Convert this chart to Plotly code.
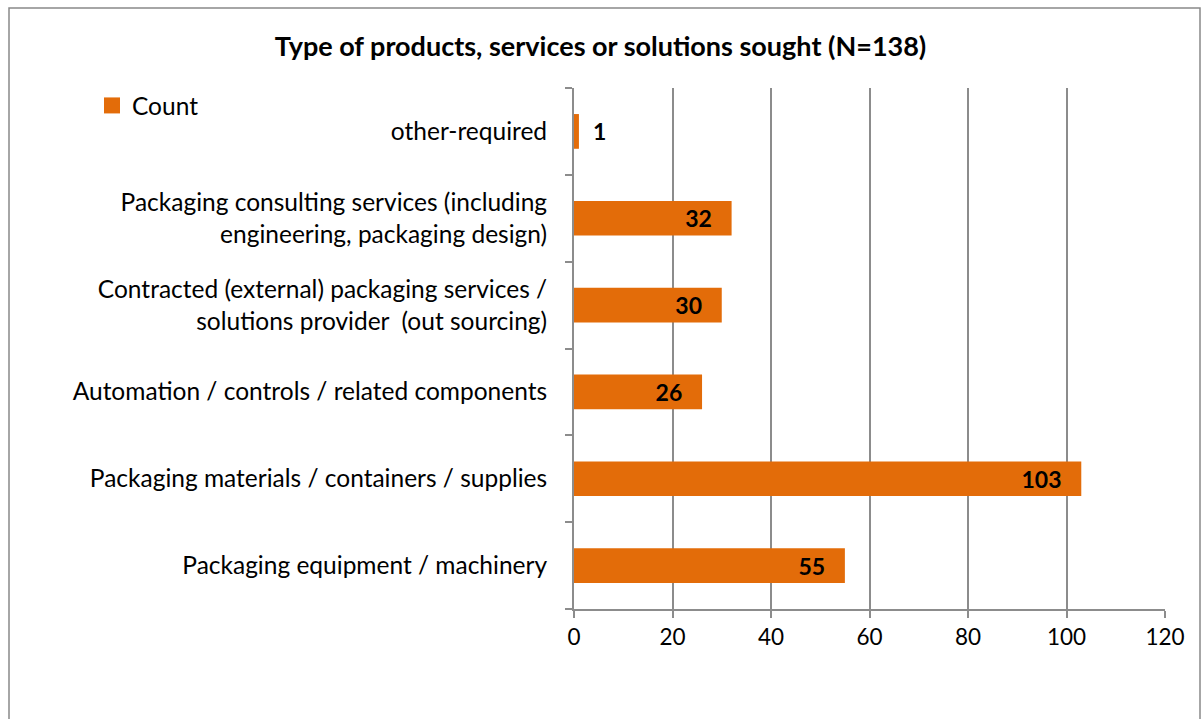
import plotly.graph_objects as go

# Survey responses: type of products, services or solutions sought
categories = [
    "Packaging equipment / machinery",
    "Packaging materials / containers / supplies",
    "Automation / controls / related components",
    "Contracted (external) packaging services /<br>solutions provider  (out sourcing)",
    "Packaging consulting services (including<br>engineering, packaging design)",
    "other-required",
]
counts = [55, 103, 26, 30, 32, 1]

x_ticks = [0, 20, 40, 60, 80, 100, 120]

ORANGE = "#E36C09"
GRID = "#8C8C8C"
FONT = "Lato, 'Open Sans', sans-serif"
NBSP = "\u00a0"

# label placement: inside the bar end, except the tiny bar
text_pos = ["outside" if v < 5 else "inside" for v in counts]
labels = [
    (NBSP * 2 + str(v)) if v < 5 else (str(v) + NBSP * 3) for v in counts
]

fig = go.Figure()
fig.add_trace(
    go.Bar(
        x=counts,
        y=categories,
        orientation="h",
        name="Count",
        legendgroup="count",
        showlegend=False,
        marker=dict(color=ORANGE, line=dict(width=0)),
        width=0.4,
        text=labels,
        textposition=text_pos,
        insidetextanchor="end",
        textfont=dict(family=FONT, size=23, color="#000000", weight="bold"),
        cliponaxis=False,
    )
)
# legend entry with a larger square swatch
fig.add_trace(
    go.Scatter(
        x=[None],
        y=[None],
        mode="markers",
        name="Count",
        legendgroup="count",
        marker=dict(symbol="square", size=16, color=ORANGE),
        hoverinfo="skip",
    )
)

W, H = 1201, 719
L, R, T, B = 574, 36, 88, 110
pw, ph = W - L - R, H - T - B


def px_x(x):
    return (x - L) / pw


def px_y(y):
    return 1 - (y - T) / ph


fig.update_layout(
    width=W,
    height=H,
    margin=dict(l=L, r=R, t=T, b=B, pad=0),
    paper_bgcolor="white",
    plot_bgcolor="white",
    font=dict(family=FONT, size=24.5, color="#000000"),
    bargap=0.6,
    showlegend=True,
    title=dict(
        text="<b>Type of products, services or solutions sought (N=138)</b>",
        x=0.5,
        xanchor="center",
        y=1 - 47 / H,
        yanchor="middle",
        font=dict(family=FONT, size=27, color="#000000"),
    ),
    legend=dict(
        x=px_x(92),
        y=px_y(83),
        xanchor="left",
        yanchor="top",
        bgcolor="rgba(0,0,0,0)",
        font=dict(family=FONT, size=24.5),
        itemsizing="trace",
        itemwidth=30,
    ),
    xaxis=dict(
        range=[0, 120],
        tickvals=x_ticks,
        showgrid=True,
        gridcolor=GRID,
        gridwidth=2,
        showline=True,
        linecolor=GRID,
        linewidth=2,
        ticks="outside",
        ticklen=7,
        tickwidth=2,
        tickcolor=GRID,
        tickfont=dict(family=FONT, size=22.5),
        zeroline=False,
        fixedrange=True,
    ),
    yaxis=dict(
        type="category",
        categoryorder="array",
        categoryarray=categories,
        showline=True,
        linecolor=GRID,
        linewidth=2,
        ticks="outside",
        tickson="boundaries",
        ticklen=7,
        tickwidth=2,
        tickcolor=GRID,
        showgrid=False,
        ticklabelstandoff=20,
        tickfont=dict(family=FONT, size=24.5),
        fixedrange=True,
    ),
    shapes=[
        dict(
            type="rect",
            xref="paper",
            yref="paper",
            x0=px_x(9),
            x1=px_x(1200),
            y0=px_y(760),
            y1=px_y(8),
            line=dict(color="#898989", width=1.5),
            fillcolor="rgba(0,0,0,0)",
            layer="below",
        )
    ],
)

fig.write_html("out.html")
